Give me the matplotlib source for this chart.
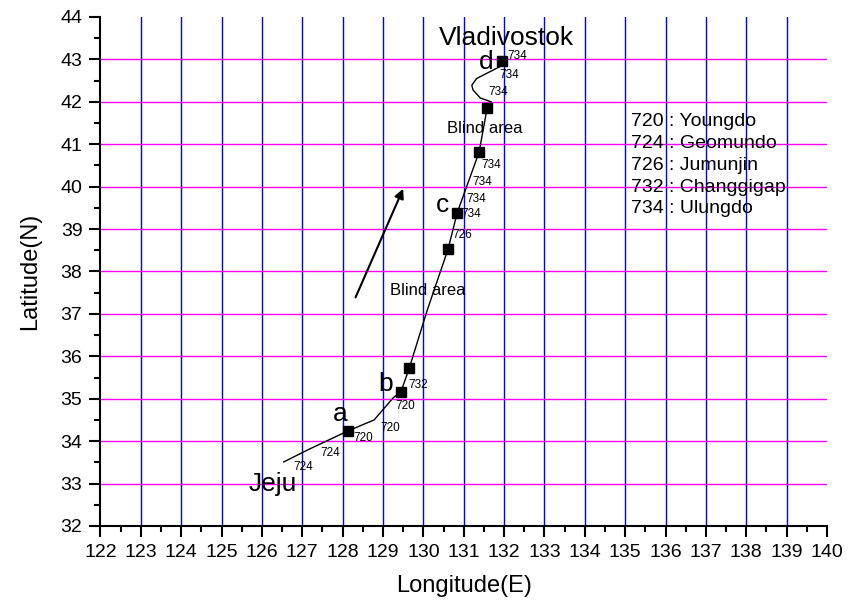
import matplotlib
matplotlib.use("Agg")
import matplotlib.pyplot as plt
import numpy as np

plt.rcParams['font.family'] = ['Liberation Sans', 'DejaVu Sans']

# ship track (longitude, latitude)
track_lon = [126.54, 127.17, 128.13, 128.78, 129.26, 129.44, 129.65, 130.10, 130.61,
             130.84, 131.38, 131.58, 131.68, 131.41, 131.23, 131.20, 131.32, 131.65,
             131.98, 131.94]
track_lat = [33.51, 33.81, 34.24, 34.50, 35.03, 35.15, 35.72, 37.10, 38.52,
             39.39, 40.81, 41.85, 42.00, 42.09, 42.28, 42.39, 42.55, 42.71,
             42.87, 42.96]

# observation points (squares)
obs_lon = [128.13, 129.44, 129.65, 130.61, 130.84, 131.38, 131.58, 131.94]
obs_lat = [34.24, 35.15, 35.72, 38.52, 39.39, 40.81, 41.85, 42.96]

# station code labels
code_text = ['724', '724', '720', '720', '720', '732',
             '734', '734', '734', '734', '734', '734', '734', '726']
code_lon = [127.02, 127.70, 128.51, 129.18, 129.55, 129.86,
            132.33, 132.13, 131.86, 131.68, 131.47, 131.31, 131.19, 130.96]
code_lat = [33.38, 33.71, 34.07, 34.32, 34.82, 35.32,
            43.08, 42.63, 42.22, 40.50, 40.11, 39.70, 39.36, 38.87]

# big letters and place names
big_text = ['a', 'b', 'c', 'd', 'Vladivostok', 'Jeju']
big_lon = [127.94, 129.06, 130.47, 131.56, 132.06, 126.28]
big_lat = [34.64, 35.35, 39.56, 42.94, 43.50, 32.99]

blind_lon = [131.53, 130.12]
blind_lat = [41.38, 37.55]

legend_lines = ['720 : Youngdo', '724 : Geomundo', '726 : Jumunjin',
                '732 : Changgigap', '734 : Ulungdo']

arrow_tail = (128.32, 37.39)
arrow_head = (129.50, 39.95)

fig = plt.figure(figsize=(8.48, 6.02), dpi=100)
ax = fig.add_axes([0.1185, 0.1263, 0.8567, 0.8455])

ax.set_xlim(122, 140)
ax.set_ylim(32, 44)

for x in range(123, 140):
    ax.axvline(x, color='#0000ff', lw=1.0, zorder=1)
for y in range(33, 44):
    ax.axhline(y, color='#ff00ff', lw=1.0, zorder=1)

ax.plot(track_lon, track_lat, color='black', lw=1.0, zorder=3)
ax.plot(obs_lon, obs_lat, 's', color='black', ms=7.5, zorder=4)

for s, x, y in zip(code_text, code_lon, code_lat):
    ax.text(x, y, s, fontsize=8.5, ha='center', va='center', zorder=5)
for s, x, y in zip(big_text, big_lon, big_lat):
    ax.text(x, y, s, fontsize=19, ha='center', va='center', zorder=5)
for x, y in zip(blind_lon, blind_lat):
    ax.text(x, y, 'Blind area', fontsize=12, ha='center', va='center', zorder=5)

for i, s in enumerate(legend_lines):
    ax.text(135.14, 41.53 - i * 0.513, s, fontsize=14, ha='left', va='center', zorder=5)

ax.annotate('', xy=arrow_head, xytext=arrow_tail,
            arrowprops=dict(arrowstyle='-|>', color='black', lw=1.5,
                            mutation_scale=14, shrinkA=0, shrinkB=0), zorder=5)

ax.spines['top'].set_visible(False)
ax.spines['right'].set_visible(False)
ax.spines['left'].set_linewidth(1.5)
ax.spines['bottom'].set_linewidth(1.5)

ax.set_xticks(np.arange(122, 141, 1))
ax.set_yticks(np.arange(32, 45, 1))
ax.set_xticks(np.arange(122.5, 140, 1), minor=True)
ax.set_yticks(np.arange(32.5, 44, 1), minor=True)
ax.tick_params(which='major', direction='out', length=8, width=1.5, labelsize=14, pad=5)
ax.tick_params(which='minor', direction='out', length=4, width=1.5)

ax.set_xlabel('Longitude(E)', fontsize=17, labelpad=10)
ax.set_ylabel('Latitude(N)', fontsize=17, labelpad=14)

fig.savefig('out.png', dpi=100)
